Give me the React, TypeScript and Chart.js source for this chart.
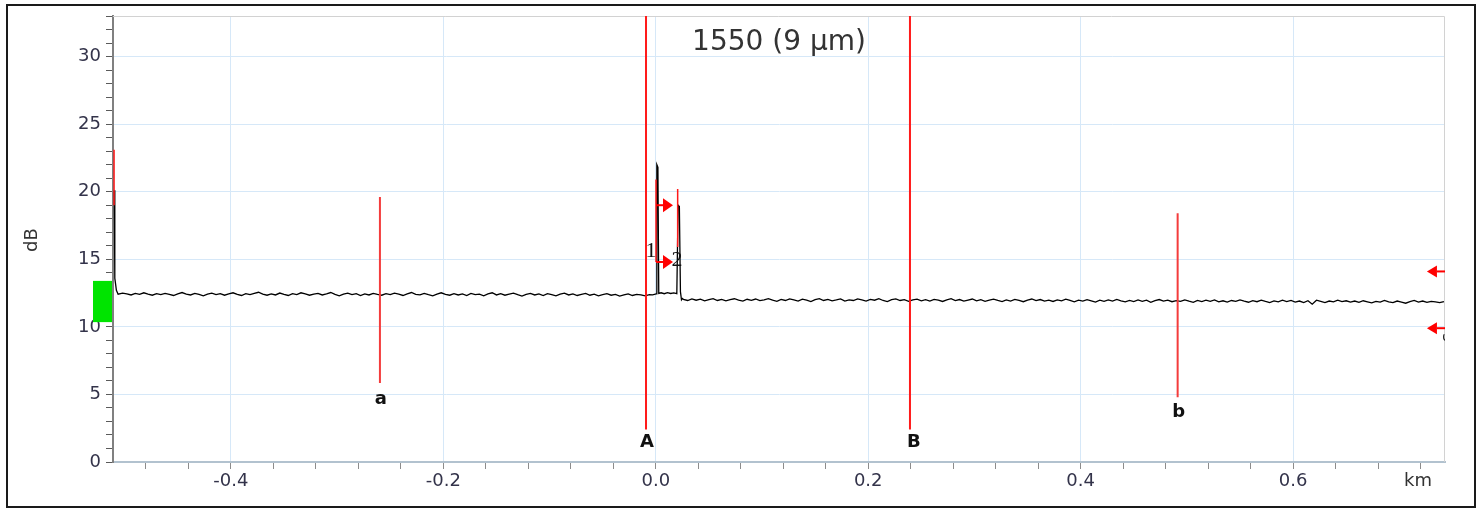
import React, { useEffect, useRef } from "react";
import { Chart, registerables } from "chart.js";

Chart.register(...registerables);

// ---- axis ranges & ticks ----
const X_MIN = -0.511;
const X_MAX = 0.743;
const Y_MIN = 0;
const Y_MAX = 33;
const xMajorTicks = [-0.4, -0.2, 0.0, 0.2, 0.4, 0.6];
const yMajorTicks = [0, 5, 10, 15, 20, 25, 30];
const xMinorTickCount = [-12, 18]; // multiples of 0.04 km
const yMinorTickCount = [0, 33]; // multiples of 1 dB

const traceTitle = "1550 (9 µm)";
const yUnit = "dB";
const xUnit = "km";

// ---- trace: launch region [km], [dB] ----
const launchX = [-0.5098, -0.5093, -0.5078, -0.5062];
const launchY = [20.1, 13.6, 12.7, 12.42];

// ---- trace: backscatter before the connector events (sampled every 0.004 km from -0.502 km) ----
const noiseStep = 0.004;
const noise1Start = -0.502;
const noise1 = [
  12.50, 12.44, 12.36, 12.48, 12.40, 12.52, 12.42, 12.34, 12.46, 12.38,
  12.48, 12.40, 12.32, 12.44, 12.54, 12.42, 12.36, 12.48, 12.40, 12.30,
  12.42, 12.50, 12.38, 12.46, 12.34, 12.44, 12.52, 12.40, 12.32, 12.46,
  12.38, 12.48, 12.56, 12.42, 12.34, 12.44, 12.36, 12.50, 12.40, 12.32,
  12.46, 12.38, 12.52, 12.44, 12.34, 12.42, 12.48, 12.36, 12.44, 12.54,
  12.40, 12.30, 12.42, 12.50, 12.38, 12.46, 12.32, 12.44, 12.36, 12.48,
  12.40, 12.34, 12.46, 12.38, 12.50, 12.42, 12.32, 12.44, 12.54, 12.40,
  12.36, 12.48, 12.38, 12.30, 12.42, 12.52, 12.40, 12.34, 12.46, 12.36,
  12.44, 12.32, 12.48, 12.38, 12.42, 12.30, 12.44, 12.52, 12.36, 12.46,
  12.34, 12.42, 12.50, 12.38, 12.28, 12.40, 12.48, 12.36, 12.44, 12.32,
  12.46, 12.38, 12.30, 12.42, 12.50, 12.36, 12.44, 12.32, 12.40, 12.48,
  12.34, 12.42, 12.30, 12.38, 12.46, 12.34, 12.40, 12.28, 12.36, 12.44,
  12.32, 12.40, 12.36, 12.30, 12.38,
];

// ---- trace: the two reflective events near 0 km ----
const eventX = [-0.003, 0.0004, 0.001, 0.002, 0.0028, 0.005, 0.008, 0.011, 0.014, 0.017, 0.0198, 0.021, 0.0222, 0.0232, 0.0242, 0.0252];
const eventY = [12.36, 12.44, 22.0, 21.8, 12.48, 12.52, 12.45, 12.53, 12.47, 12.51, 12.46, 19.0, 18.9, 12.6, 12.0, 12.1];

// ---- trace: backscatter after the events (sampled every 0.004 km from 0.026 km) ----
const noise2Start = 0.026;
const noise2 = [
  12.03, 11.95, 12.07, 11.97, 12.05, 11.93, 12.01, 12.09, 11.95, 12.03,
  11.92, 12.02, 12.08, 11.98, 11.90, 12.04, 11.96, 12.06, 11.94, 12.00,
  12.09, 11.97, 11.89, 12.03, 11.95, 12.07, 11.99, 11.91, 12.05, 11.97,
  11.87, 12.01, 12.09, 11.95, 12.03, 11.93, 11.99, 12.07, 11.91, 11.99,
  11.95, 12.07, 11.99, 11.91, 12.03, 11.97, 12.09, 11.95, 11.87, 12.01,
  12.07, 11.95, 12.01, 11.89, 11.99, 12.05, 11.93, 12.01, 11.91, 12.03,
  11.98, 11.88, 12.00, 12.08, 11.94, 12.02, 11.90, 11.98, 12.06, 11.92,
  12.01, 11.89, 11.97, 12.05, 11.95, 11.87, 11.99, 11.91, 12.03, 11.95,
  11.86, 11.98, 12.06, 11.94, 12.02, 11.90, 11.98, 11.88, 12.00, 11.92,
  12.05, 11.95, 11.85, 11.97, 11.91, 12.01, 11.93, 11.83, 11.97, 11.89,
  11.99, 11.91, 12.03, 11.93, 11.85, 11.95, 11.87, 11.99, 11.89, 11.97,
  11.82, 11.94, 12.02, 11.90, 11.98, 11.86, 11.94, 11.88, 12.00, 11.90,
  11.81, 11.95, 11.87, 11.97, 11.89, 11.99, 11.85, 11.93, 11.83, 11.95,
  11.88, 12.00, 11.90, 11.82, 11.94, 11.86, 11.98, 11.88, 11.80, 11.92,
  11.85, 11.97, 11.87, 11.95, 11.83, 11.91, 11.79, 11.93, 11.68, 11.97,
  11.89, 11.79, 11.91, 11.85, 11.97, 11.87, 11.93, 11.83, 11.91, 11.81,
  11.93, 11.85, 11.77, 11.89, 11.83, 11.95, 11.85, 11.79, 11.91, 11.83,
  11.75, 11.87, 11.95, 11.83, 11.91, 11.81, 11.89, 11.85, 11.79, 11.87,
];

// ---- red marker lines: start, event 1, event 2, cursors A, B, a, b ----
const eventMarkerX = [-0.51, 0.0002, 0.0206];
const eventMarkerTop = [23.1, 20.9, 20.2];
const eventMarkerBottom = [19.0, 14.8, 15.9];
const cursorNames = ["A", "B", "a", "b"];
const cursorX = [-0.0092, 0.2393, -0.2597, 0.4913];
const cursorTop = [33, 33, 19.6, 18.4];
const cursorBottom = [2.4, 2.4, 5.85, 4.8];
const cursorLabelY = [1.48, 1.48, 4.67, 3.7];

// ---- event arrows (pointing right) and end arrows (pointing left) ----
const eventArrowFrom = [0.0002, 0.0002];
const eventArrowTip = [0.0162, 0.0162];
const eventArrowY = [19.0, 14.8];
const eventNumbers = ["1", "2"];
const eventNumberX = [-0.0045, 0.02];
const eventNumberY = [15.6, 14.95];
const endArrowTip = [0.726, 0.726];
const endArrowFrom = [0.743, 0.743];
const endArrowY = [14.1, 9.9];
const endLabel = "3";
const endLabelPos = [0.7445, 9.2];

// ---- launch level box (green) ----
const launchBoxTop = 13.4;
const launchBoxBottom = 10.35;

const GRID = "#d6e8f8";
const isMajor = (v: any, list: number[]) =>
  v !== undefined && v !== null && list.some((t) => Math.abs(t - Number(v)) < 1e-6);

function drawArrow(ctx: CanvasRenderingContext2D, tipX: number, tailX: number, y: number, head: number, half: number) {
  const dir = Math.sign(tailX - tipX) || 1;
  const baseX = tipX + dir * head;
  ctx.lineWidth = 2;
  ctx.beginPath();
  ctx.moveTo(tailX, y);
  ctx.lineTo(baseX, y);
  ctx.stroke();
  ctx.beginPath();
  ctx.moveTo(tipX, y);
  ctx.lineTo(baseX, y - half);
  ctx.lineTo(baseX, y + half);
  ctx.closePath();
  ctx.fill();
}

const overlayPlugin = {
  id: "otdrOverlay",
  beforeDatasetsDraw(chart: any) {
    const { ctx, chartArea: a } = chart;
    ctx.save();
    ctx.strokeStyle = "#d2d2d2";
    ctx.lineWidth = 1;
    ctx.beginPath();
    ctx.moveTo(a.left, a.top + 0.5);
    ctx.lineTo(a.right - 0.5, a.top + 0.5);
    ctx.lineTo(a.right - 0.5, a.bottom);
    ctx.stroke();
    ctx.restore();
  },
  afterDatasetsDraw(chart: any) {
    const { ctx, chartArea: a, scales } = chart;
    const xs = scales.x;
    const ys = scales.y;
    ctx.save();
    // title
    ctx.fillStyle = "#333333";
    ctx.font = '28px "DejaVu Sans"';
    ctx.textAlign = "center";
    ctx.textBaseline = "middle";
    ctx.fillText(traceTitle, (a.left + a.right) / 2, a.top + 27);

    // arrows
    ctx.fillStyle = "#ff0000";
    ctx.strokeStyle = "#ff0000";
    for (let i = 0; i < eventArrowY.length; i++) {
      drawArrow(ctx, xs.getPixelForValue(eventArrowTip[i]), xs.getPixelForValue(eventArrowFrom[i]), ys.getPixelForValue(eventArrowY[i]), 10, 7);
    }
    for (let i = 0; i < endArrowY.length; i++) {
      drawArrow(ctx, xs.getPixelForValue(endArrowTip[i]), xs.getPixelForValue(endArrowFrom[i]), ys.getPixelForValue(endArrowY[i]), 10, 6);
    }

    // event numbers
    ctx.fillStyle = "#111111";
    ctx.font = '22px "Liberation Serif"';
    for (let i = 0; i < eventNumbers.length; i++) {
      ctx.fillText(eventNumbers[i], xs.getPixelForValue(eventNumberX[i]), ys.getPixelForValue(eventNumberY[i]));
    }

    // cursor labels
    ctx.font = 'bold 18px "DejaVu Sans"';
    for (let i = 0; i < cursorNames.length; i++) {
      ctx.fillText(cursorNames[i], xs.getPixelForValue(cursorX[i]) + (i === 1 ? 4 : 1), ys.getPixelForValue(cursorLabelY[i]));
    }

    // clipped end label
    ctx.save();
    ctx.beginPath();
    ctx.rect(a.left, a.top, a.width, a.height);
    ctx.clip();
    ctx.translate(xs.getPixelForValue(endLabelPos[0]), ys.getPixelForValue(endLabelPos[1]));
    ctx.rotate(Math.PI / 2);
    ctx.font = '14px "DejaVu Sans"';
    ctx.fillStyle = "#222";
    ctx.fillText(endLabel, 0, 0);
    ctx.restore();

    ctx.restore();
  },
  afterDraw(chart: any) {
    const { ctx, chartArea: a, scales } = chart;
    const ys = scales.y;
    ctx.save();
    // green launch box
    const t = ys.getPixelForValue(launchBoxTop);
    const b = ys.getPixelForValue(launchBoxBottom);
    ctx.fillStyle = "#00e400";
    ctx.fillRect(a.left - 20, t, 19, b - t);
    // unit labels
    ctx.fillStyle = "#333333";
    ctx.font = '18px "DejaVu Sans"';
    ctx.textAlign = "center";
    ctx.textBaseline = "middle";
    ctx.fillText(xUnit, a.right - 27, a.bottom + 19);
    ctx.translate(32, (a.top + a.bottom) / 2 + 1);
    ctx.rotate(-Math.PI / 2);
    ctx.fillText(yUnit, 0, 0);
    ctx.restore();
  },
};

export default function App() {
  const ref = useRef<HTMLCanvasElement | null>(null);

  useEffect(() => {
    if (!ref.current) return;
    Chart.defaults.font.family = '"DejaVu Sans", Verdana, sans-serif';

    const trace = [
      ...launchX.map((x, i) => ({ x, y: launchY[i] })),
      ...noise1.map((y, i) => ({ x: noise1Start + i * noiseStep, y })),
      ...eventX.map((x, i) => ({ x, y: eventY[i] })),
      ...noise2.map((y, i) => ({ x: noise2Start + i * noiseStep, y })),
    ];

    const markerSets: any[] = [];
    eventMarkerX.forEach((x, i) => {
      markerSets.push({
        data: [{ x, y: eventMarkerTop[i] }, { x, y: eventMarkerBottom[i] }],
        borderColor: "#ff1a1a",
        borderWidth: 1.5,
        pointRadius: 0,
      });
    });
    cursorX.forEach((x, i) => {
      markerSets.push({
        data: [{ x, y: cursorTop[i] }, { x, y: cursorBottom[i] }],
        borderColor: i < 2 ? "#ff1a1a" : "#f43c3c",
        borderWidth: 2,
        pointRadius: 0,
      });
    });

    const xTickValues: number[] = [];
    for (let k = xMinorTickCount[0]; k <= xMinorTickCount[1]; k++) xTickValues.push(Math.round(k * 4) / 100);
    const yTickValues: number[] = [];
    for (let k = yMinorTickCount[0]; k <= yMinorTickCount[1]; k++) yTickValues.push(k);

    const chart = new Chart(ref.current, {
      type: "line",
      data: {
        datasets: [
          ...markerSets,
          {
            data: trace,
            borderColor: "#000000",
            borderWidth: 1.3,
            pointRadius: 0,
            tension: 0,
          },
        ],
      },
      options: {
        animation: false,
        responsive: false,
        devicePixelRatio: 1,
        layout: { padding: { left: 0, top: 16, right: 36, bottom: 0 } },
        plugins: { legend: { display: false }, tooltip: { enabled: false }, title: { display: false } },
        scales: {
          x: {
            type: "linear",
            min: X_MIN,
            max: X_MAX,
            bounds: "data",
            afterBuildTicks: (s: any) => {
              s.ticks = xTickValues.map((v) => ({ value: v }));
            },
            afterFit: (s: any) => {
              s.height = 50;
            },
            ticks: {
              autoSkip: false,
              maxRotation: 0,
              padding: 2,
              color: "#33334a",
              font: { size: 18 },
              callback: (v: any) => {
                const m = xMajorTicks.find((t) => Math.abs(t - Number(v)) < 1e-6);
                return m === undefined ? "" : m.toFixed(1);
              },
            },
            grid: {
              color: (c: any) => (c.tick && isMajor(c.tick.value, xMajorTicks) ? GRID : "rgba(0,0,0,0)"),
              tickColor: "#8c8c8c",
              tickLength: 7,
              lineWidth: 1,
            },
            border: { color: "#b2c2cf", width: 2 },
          },
          y: {
            type: "linear",
            min: Y_MIN,
            max: Y_MAX,
            bounds: "data",
            afterBuildTicks: (s: any) => {
              s.ticks = yTickValues.map((v) => ({ value: v }));
            },
            afterFit: (s: any) => {
              s.width = 113;
            },
            ticks: {
              autoSkip: false,
              padding: 5,
              color: "#33334a",
              font: { size: 18 },
              callback: (v: any) => (isMajor(v, yMajorTicks) ? String(Math.round(Number(v))) : ""),
            },
            grid: {
              color: (c: any) =>
                c.tick && c.tick.value !== 0 && isMajor(c.tick.value, yMajorTicks) ? GRID : "rgba(0,0,0,0)",
              tickColor: "#5a5a5a",
              tickLength: 7,
              lineWidth: 1,
            },
            border: { color: "#808080", width: 2 },
          },
        },
      },
      plugins: [overlayPlugin],
    } as any);

    return () => chart.destroy();
  }, []);

  return (
    <div style={{ position: "absolute", left: 0, top: 0, width: 1481, height: 512, background: "#fff" }}>
      <canvas ref={ref} width={1481} height={512} style={{ display: "block", width: 1481, height: 512 }} />
      <div
        style={{
          position: "absolute",
          left: 6,
          top: 4,
          width: 1466,
          height: 500,
          border: "2px solid #1a1a1a",
          pointerEvents: "none",
        }}
      />
    </div>
  );
}
